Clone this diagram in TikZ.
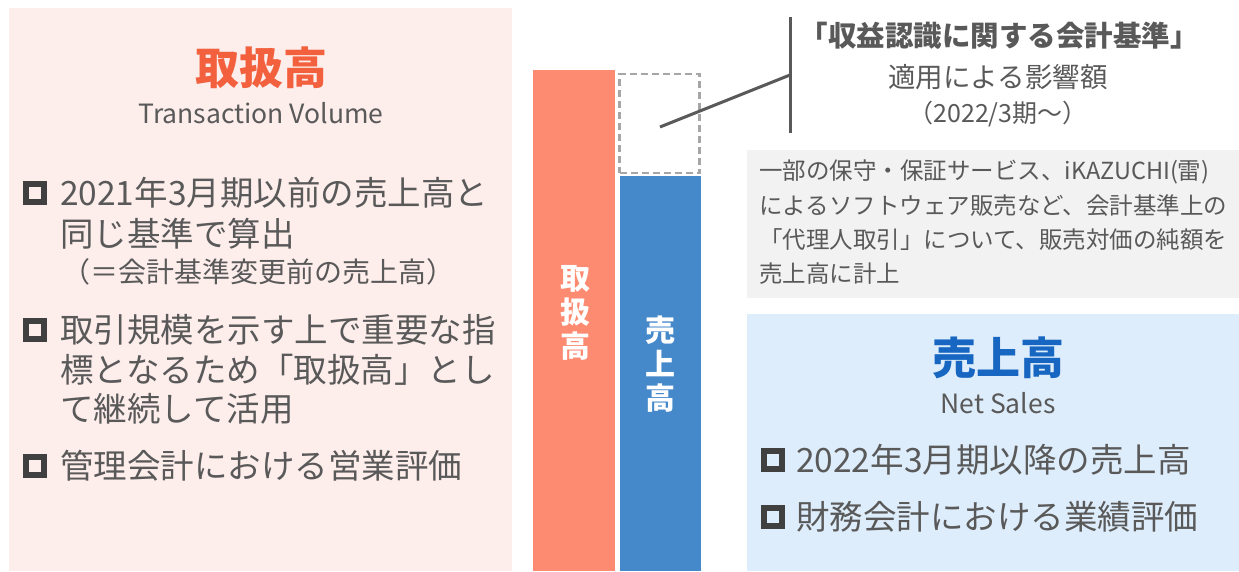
\documentclass[tikz,border=0pt]{standalone}
\usepackage{fontspec}
\setmainfont{Noto Sans CJK JP}
\definecolor{pinkbg}{HTML}{FDEEEC}
\definecolor{orangetitle}{HTML}{F2603E}
\definecolor{salmon}{HTML}{FD8B72}
\definecolor{barblue}{HTML}{4589CB}
\definecolor{bluebg}{HTML}{DEEDFB}
\definecolor{bluetitle}{HTML}{1766C1}
\definecolor{tgray}{HTML}{595959}
\definecolor{bgray}{HTML}{404040}
\definecolor{boxgray}{HTML}{F2F2F2}
\definecolor{dashgray}{HTML}{A6A6A6}
\newcommand{\fs}[2]{\fontsize{#1}{#2}\selectfont}
\begin{document}
\begin{tikzpicture}[x=1pt,y=-1pt,
  panel/.style={inner sep=0pt, outer sep=0pt, draw=none},
  txt/.style={inner sep=0pt, text=tgray},
  bodytxt/.style={txt, anchor=west, font=\fs{33.5}{40}},
  bsq/.style={draw=bgray, line width=6pt, minimum size=18pt, inner sep=0pt},
  bartxt/.style={inner sep=0pt, text=white, align=center, font=\fs{30}{34}\bfseries},
  callout/.style={draw=tgray, line width=3pt}]
\path[use as bounding box] (0,0) rectangle (1239,571);
% panels
\node[panel, fill=pinkbg, minimum width=503pt, minimum height=563pt] (leftp) at (260.5,289.5) {};
\node[panel, fill=boxgray, minimum width=492pt, minimum height=148pt] (grayp) at (993,224) {};
\node[panel, fill=bluebg, minimum width=492pt, minimum height=257pt] (bluep) at (993,442.5) {};
% bars
\node[panel, fill=salmon, minimum width=82pt, minimum height=501pt] (obar) at (574,320.5) {};
\node[panel, fill=barblue, minimum width=81pt, minimum height=395pt] (bbar) at (660.5,373.5) {};
\node[panel, fill=white, draw=dashgray, line width=2.5pt, dash pattern=on 7pt off 4pt, minimum width=80pt, minimum height=99pt] (dbox) at (659.5,123.5) {};
\node[bartxt] (obartxt) at (575,313) {取\\扱\\高};
\node[bartxt] (bbartxt) at (660,364) {売\\上\\高};
% callout
\coordinate (cA) at (660,127);
\coordinate (cB) at (790,75);
\coordinate (vt) at (790,17);
\coordinate (vb) at (790,133);
\draw[callout] (cA) -- (cB);
\draw[callout] (vt) -- (vb);
\node[txt, font=\fs{28.5}{32}\bfseries] (ct1) at (999,36) {「収益認識に関する会計基準」};
\node[txt, font=\fs{27.5}{32}] (ct2) at (998,77) {適用による影響額};
\node[txt, font=\fs{25}{30}] (ct3) at (998,114) {（2022/3期～）};
% gray box text
\node[txt, anchor=west, font=\fs{23.5}{28}] (g1) at (759,172) {一部の保守・保証サービス、iKAZUCHI(雷)};
\node[txt, anchor=west, font=\fs{23.5}{28}] (g2) at (759,206) {によるソフトウェア販売など、会計基準上の};
\node[txt, anchor=west, font=\fs{23.5}{28}] (g3) at (759,240) {「代理人取引」について、販売対価の純額を};
\node[txt, anchor=west, font=\fs{23.5}{28}] (g4) at (759,274) {売上高に計上};
% left panel text
\node[inner sep=0pt, text=orangetitle, font=\fs{44}{48}\bfseries] (lt) at (261,68) {取扱高};
\node[txt, font=\fs{26.5}{30}] (lst) at (261,113) {Transaction Volume};
\node[bsq] (lb1) at (35,193) {};
\node[bodytxt] (l1) at (60,193) {2021年3月期以前の売上高と};
\node[bodytxt] (l2) at (60,234) {同じ基準で算出};
\node[txt, anchor=west, font=\fs{28}{32}] (l3) at (62,272) {（＝会計基準変更前の売上高）};
\node[bsq] (lb2) at (35,330) {};
\node[bodytxt] (l4) at (60,330) {取引規模を示す上で重要な指};
\node[bodytxt] (l5) at (60,370) {標となるため「取扱高」とし};
\node[bodytxt] (l6) at (60,409) {て継続して活用};
\node[bsq] (lb3) at (35,466) {};
\node[bodytxt] (l7) at (60,466) {管理会計における営業評価};
% right panel text
\node[inner sep=0pt, text=bluetitle, font=\fs{44}{48}\bfseries] (rt) at (998,358) {売上高};
\node[txt, font=\fs{26.5}{30}] (rst) at (998,403) {Net Sales};
\node[bsq] (rb1) at (773,460) {};
\node[bodytxt] (r1) at (796,460) {2022年3月期以降の売上高};
\node[bsq] (rb2) at (773,517) {};
\node[bodytxt] (r2) at (796,517) {財務会計における業績評価};
\end{tikzpicture}
\end{document}
